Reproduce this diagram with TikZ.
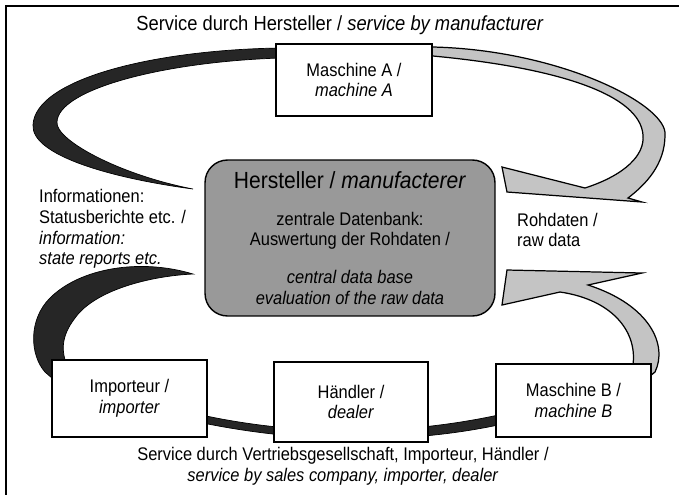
\documentclass[tikz,border=0pt]{standalone}
\usepackage{fontspec}
\setmainfont{Liberation Sans}[FakeStretch=0.9]
\begin{document}
\begin{tikzpicture}[x=0.02cm, y=-0.02cm,
		txt/.style={align=center, font=\fontsize{10.4}{11.8}\selectfont},
		box/.style={txt, draw, fill=white, line width=0.8pt, inner sep=0pt, minimum width=3.1cm, minimum height=1.5cm},
		band/.style={fill=black!85, draw=black, line width=0.4pt},
		greyband/.style={fill=black!23, draw=black, line width=0.7pt}]
		\useasboundingbox (0,0) rectangle (679,495);
		\draw[line width=1.1pt] (679,6) -- (6,6) -- (6,495);
		\filldraw[band] (280,48) .. controls (150,50) and (35,80) .. (33,125) .. controls (31,155) and (110,178) .. (193,189)
			.. controls (120,175) and (55,140) .. (57,122) .. controls (58,90) and (160,62) .. (280,58) -- cycle;
		\filldraw[band] (60,385) -- (45,372) .. controls (30,355) and (28,320) .. (50,298) .. controls (80,268) and (140,258) .. (193,274)
			.. controls (150,276) and (95,290) .. (75,318) .. controls (62,335) and (60,350) .. (68,368) -- cycle;
		\filldraw[band] (180,410) .. controls (300,440) and (420,435) .. (520,410) -- (520,420)
			.. controls (420,445) and (300,446) .. (180,418) -- cycle;
		\filldraw[greyband] (425,47) -- (433,47) .. controls (560,50) and (668,105) .. (665,135) .. controls (665,165) and (645,185) .. (628,198)
			-- (642,202) -- (507,192) -- (502,167) -- (585,188) .. controls (625,175) and (645,155) .. (643,135)
			.. controls (640,95) and (560,68) .. (433,56) -- (425,56) -- cycle;
		\filldraw[greyband] (645,380) -- (655,372) .. controls (668,345) and (650,305) .. (588,285) -- (642,273) -- (507,270) -- (502,305)
			-- (560,292) .. controls (615,300) and (640,335) .. (632,370) -- cycle;
		\node[box, minimum width=3.12cm, minimum height=1.44cm] (maschA) at (354,80) {Maschine A /\\ \textit{machine A}};
		\node[box, minimum height=1.54cm] (importeur) at (129.5,398.5) {Importeur /\\ \textit{importer}};
		\node[box, minimum width=3.08cm, minimum height=1.6cm] (haendler) at (351,402) {Händler /\\ \textit{dealer}};
		\node[box, minimum height=1.46cm] (maschB) at (573.5,400.5) {Maschine B /\\ \textit{machine B}};
		\node[txt, draw, fill=black!40, line width=0.8pt, rounded corners=0.45cm, minimum width=5.8cm, minimum height=3.12cm] (hersteller) at (350,238)
			{{\fontsize{13.3}{14}\selectfont Hersteller / \textit{manufacterer}}\\[9.2pt] zentrale Datenbank:\\ Auswertung der Rohdaten /\\[9.8pt]
			\textit{central data base}\\ \textit{evaluation of the raw data}};
		\node[txt, font=\fontsize{11.6}{13}\selectfont] (title) at (340,25) {Service durch Hersteller / \textit{service by manufacturer}};
		\node[txt] (footer) at (343,466) {Service durch Vertriebsgesellschaft, Importeur, Händler /\\ \textit{service by sales company, importer, dealer}};
		\node[txt, align=left, anchor=west] (info) at (33,229) {Informationen:\\ Statusberichte etc. /\\ \textit{information:}\\ \textit{state reports etc.}};
		\node[txt, align=left, anchor=west] (rohdaten) at (511,230) {Rohdaten /\\ raw data};
	\end{tikzpicture}
\end{document}
